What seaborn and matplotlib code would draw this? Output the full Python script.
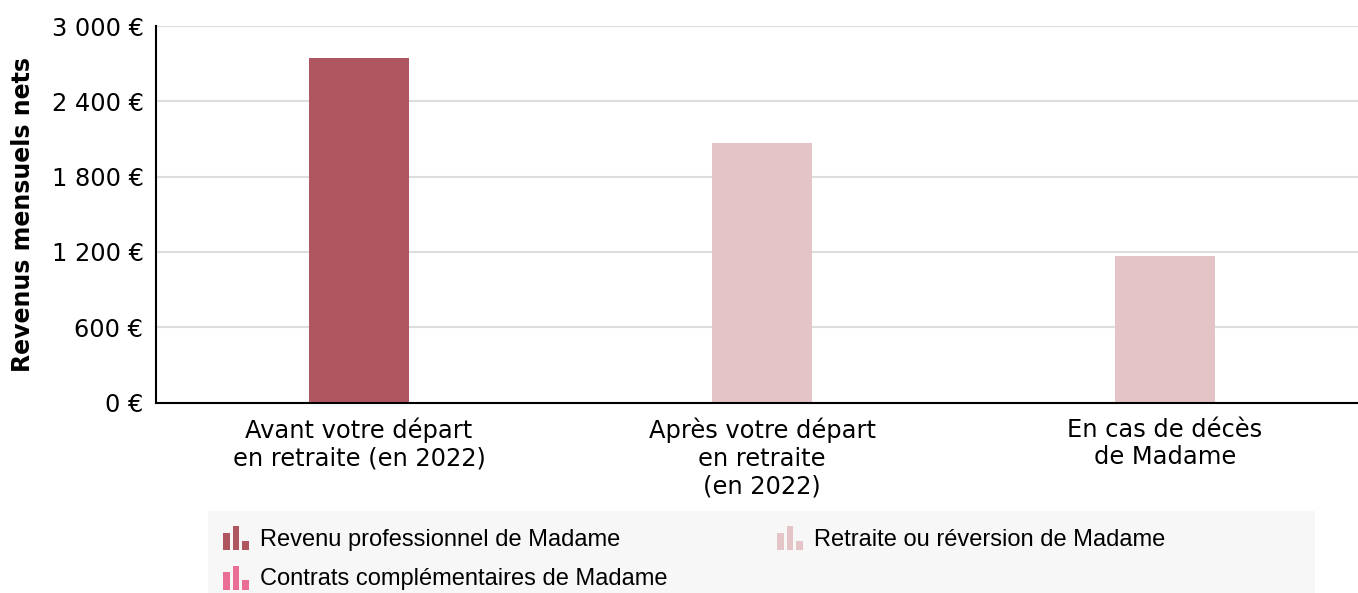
import numpy as np
import pandas as pd
import matplotlib
matplotlib.use("Agg")
import matplotlib.pyplot as plt
import seaborn as sns
from matplotlib.patches import Rectangle
from matplotlib.legend_handler import HandlerBase
from matplotlib.ticker import FuncFormatter, FixedLocator

# ---- data ----
categories = ["Avant votre départ\nen retraite (en 2022)",
              "Après votre départ\nen retraite\n(en 2022)",
              "En cas de décès\nde Madame"]
series_names = ["Revenu professionnel de Madame",
                "Retraite ou réversion de Madame",
                "Contrats complémentaires de Madame"]
revenu_pro = [2745, 0, 0]
retraite = [0, 2070, 1165]
contrats = [0, 0, 0]
y_ticks = [0, 600, 1200, 1800, 2400, 3000]
y_label = "Revenus mensuels nets"

colors = {series_names[0]: "#b05660",
          series_names[1]: "#e4c4c7",
          series_names[2]: "#ea6e93"}

df = pd.DataFrame({
    "cat": categories * 3,
    "serie": [series_names[0]] * 3 + [series_names[1]] * 3 + [series_names[2]] * 3,
    "val": revenu_pro + retraite + contrats,
})

sns.set_theme(style="white")
plt.rcParams['font.family'] = ['DejaVu Sans']

W, H = 1358, 593
fig = plt.figure(figsize=(W / 100, H / 100), dpi=100)
ax = fig.add_axes([156 / W, (H - 402.5) / H, (W - 156) / W, (402.5 - 26) / H])

sns.barplot(data=df, x="cat", y="val", hue="serie", order=categories,
            hue_order=series_names, palette=colors, dodge=False, width=0.25,
            errorbar=None, ax=ax, legend=False, saturation=1, linewidth=0)

ax.set_xlim(-0.504, 2.479)
ax.set_ylim(0, 3000)
ax.yaxis.set_major_locator(FixedLocator(y_ticks))
ax.yaxis.set_major_formatter(FuncFormatter(lambda v, p: f"{v:,.0f}".replace(",", " ") + " €"))
ax.grid(axis="y", color="#dddddd", linewidth=1.5)
ax.set_axisbelow(True)
for s in ["top", "right"]:
    ax.spines[s].set_visible(False)
for s in ["left", "bottom"]:
    ax.spines[s].set_color("black")
    ax.spines[s].set_linewidth(1.5)
    ax.spines[s].set_zorder(5)
ax.tick_params(axis="y", length=0, pad=9, labelsize=17.4, labelcolor="black")
ax.tick_params(axis="x", length=0, pad=11, labelsize=17.4, labelcolor="black")
for t in ax.get_xticklabels():
    t.set_linespacing(1.18)
ax.set_xlabel("")
ax.set_ylabel(y_label, fontsize=17, fontweight="bold", color="black")
ax.yaxis.set_label_coords(-121 / (W - 156), 0.5)


class BarIconHandler(HandlerBase):
    def create_artists(self, legend, orig_handle, xdescent, ydescent, width, height, fontsize, trans):
        col = orig_handle.get_facecolor()
        bw = width / 3.9
        gap = (width - 3 * bw) / 2
        hs = [0.73, 1.0, 0.39]
        full = height + 1.7
        arts = []
        for i, h in enumerate(hs):
            r = Rectangle((i * (bw + gap), -ydescent - 1.2), bw, full * h,
                          facecolor=col, edgecolor="none", transform=trans)
            arts.append(r)
        return arts


# legend background
fig.patches.append(Rectangle((208 / W, 0), (1315 - 208) / W, (H - 511) / H,
                             transform=fig.transFigure, facecolor="#f7f7f7",
                             edgecolor="none", zorder=0))
order = [0, 2, 1]
handles = [Rectangle((0, 0), 1, 1, facecolor=colors[series_names[i]]) for i in order]
labels = [series_names[i] for i in order]
leg = fig.legend(handles, labels, loc="upper left", bbox_to_anchor=(223 / W, (H - 527) / H),
                 ncol=2, frameon=False, handler_map={Rectangle: BarIconHandler()},
                 prop={"family": "Liberation Sans", "size": 17}, handlelength=1.1,
                 handleheight=1.0, handletextpad=0.47, columnspacing=4.63, labelspacing=0.68,
                 borderaxespad=0, borderpad=0)
for t in leg.get_texts():
    t.set_color("black")

fig.savefig("out.png", dpi=100)
